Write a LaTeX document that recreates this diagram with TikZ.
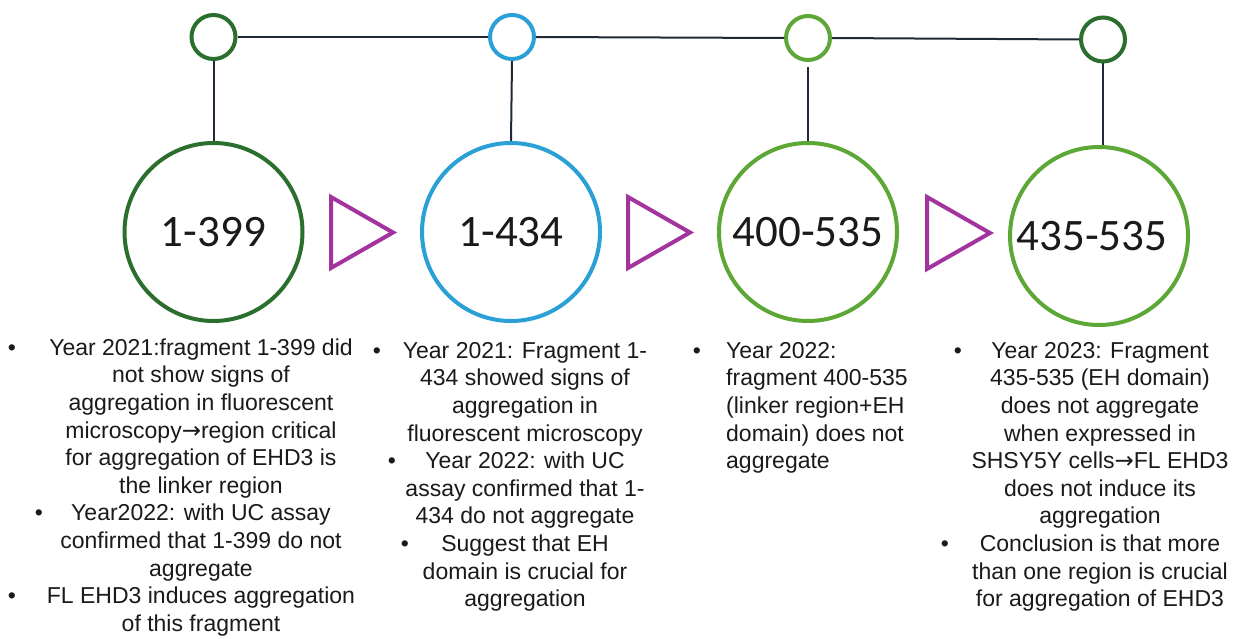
\documentclass[tikz,border=0pt]{standalone}
\usepackage{fontspec}
\setmainfont{Liberation Sans}
\newfontfamily\numfont{Carlito}
\newfontfamily\arrowfont{DejaVu Sans}
\definecolor{darkg}{HTML}{2B6F2E}
\definecolor{lightg}{HTML}{5CA736}
\definecolor{bluec}{HTML}{2BA0D6}
\definecolor{magc}{HTML}{A3349E}
\definecolor{linec}{HTML}{1E2B36}
\definecolor{txt}{HTML}{1A1A1A}
\newcommand{\myarrow}{{\arrowfont →}}
\tikzset{
  smallc/.style={circle, line width=4pt, minimum size=44pt, inner sep=0pt, fill=white},
  bigc/.style={circle, line width=4pt, minimum size=178pt, inner sep=0pt, fill=white,
    text=txt, font=\numfont\fontsize{45}{54}\selectfont},
  conn/.style={draw=linec, line width=2pt},
  tri/.style={draw=magc, line width=4pt, line join=miter},
  body/.style={font=\fontsize{23}{27.6}\selectfont, inner sep=0pt, anchor=north, text=txt},
  bul/.style={font=\fontsize{23}{27.6}\selectfont, inner sep=0pt, anchor=base, text=txt}
}
\begin{document}
\begin{tikzpicture}[x=1pt,y=-1pt]
\useasboundingbox (0,0) rectangle (1241,639);
\fill[white] (0,0) rectangle (1241,639);

% small timeline circles
\node[smallc, draw=darkg]  (s1) at (213.5,37) {};
\node[smallc, draw=bluec]  (s2) at (512,37) {};
\node[smallc, draw=lightg] (s3) at (808,38) {};
\node[smallc, draw=darkg]  (s4) at (1103,39.5) {};

% big circles
\node[bigc, draw=darkg]  (b1) at (213.5,232) {1-399};
\node[bigc, draw=bluec]  (b2) at (511,232) {1-434};
\node[bigc, draw=lightg] (b3) at (808,232) {400-535};
\node[bigc, draw=lightg] (b4) at (1099,236) {435-535\kern14pt};

% connectors
\draw[conn] (s1.east) -- (s2.west);
\draw[conn] (s2.east) -- (s3.west);
\draw[conn] (s3.east) -- (s4.west);
\draw[conn] (s1.south) -- (b1.north);
\draw[conn] (s2.south) -- (b2.north);
\draw[conn, shorten <=5pt] (s3.south) -- (b3.north);
\draw[conn] (s4.south) -- (s4.south |- b4.north);

% triangles
\draw[tri] (331,197) -- (331,268) -- (393,232.5) -- cycle;
\draw[tri] (628,197) -- (628,268) -- (690,232.5) -- cycle;
\draw[tri] (927,197) -- (927,269) -- (990,233) -- cycle;

% column 1
\node[body, align=center] (t1) at (201,335.7) {\strut Year 2021:fragment 1-399 did\\
not show signs of\\
aggregation in fluorescent\\
microscopy\myarrow region critical\\
for aggregation of EHD3 is\\
the linker region\\
Year2022: with UC assay\\
confirmed that 1-399 do not\\
aggregate\\
FL EHD3 induces aggregation\\
of this fragment};
\node[bul] (u1a) at (12,355) {•};
\node[bul] (u1b) at (39,520.6) {•};
\node[bul] (u1c) at (12,603.4) {•};

% column 2
\node[body, align=center] (t2) at (525,338.7) {\strut Year 2021: Fragment 1-\\
434 showed signs of\\
aggregation in\\
fluorescent microscopy\\
Year 2022: with UC\\
assay confirmed that 1-\\
434 do not aggregate\\
Suggest that EH\\
domain is crucial for\\
aggregation};
\node[bul] (u2a) at (377,358) {•};
\node[bul] (u2b) at (392,468.4) {•};
\node[bul] (u2c) at (405,551.2) {•};

% column 3
\node[body, align=left, anchor=north west] (t3) at (726,338.7) {\strut Year 2022:\\
fragment 400-535\\
(linker region+EH\\
domain) does not\\
aggregate};
\node[bul] (u3a) at (697,358) {•};

% column 4
\node[body, align=center] (t4) at (1100,338.7) {\strut Year 2023: Fragment\\
435-535 (EH domain)\\
does not aggregate\\
when expressed in\\
SHSY5Y cells\myarrow FL EHD3\\
does not induce its\\
aggregation\\
Conclusion is that more\\
than one region is crucial\\
for aggregation of EHD3};
\node[bul] (u4a) at (958,358) {•};
\node[bul] (u4b) at (945,551.2) {•};
\end{tikzpicture}
\end{document}
